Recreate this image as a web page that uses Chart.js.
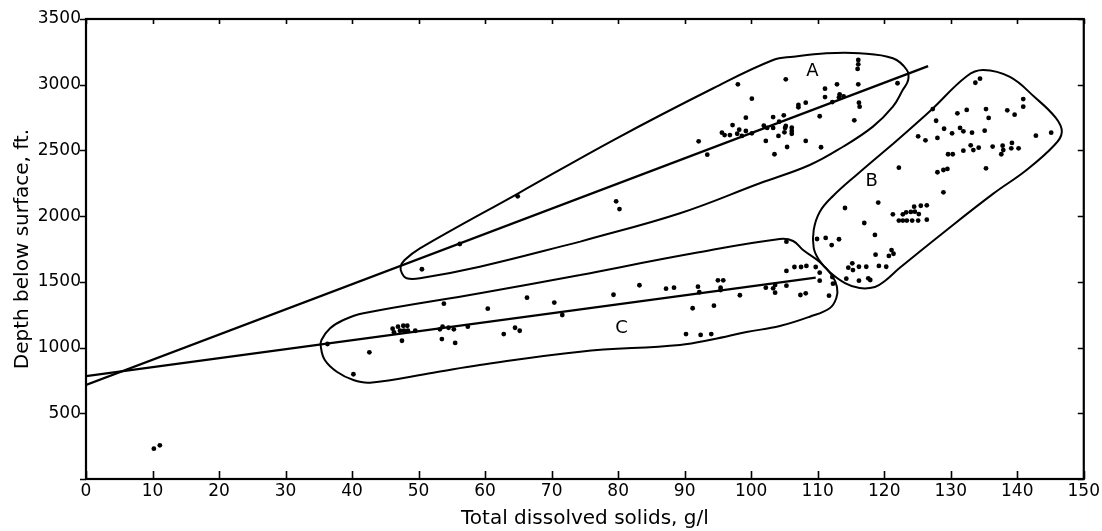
<!DOCTYPE html>
<html>
<head>
<meta charset="utf-8">
<script src="https://cdn.jsdelivr.net/npm/chart.js@4.4.0/dist/chart.umd.min.js"></script>
<style>
html,body{margin:0;padding:0;background:#fff;}
#wrap{width:1102px;height:531px;position:relative;}
</style>
</head>
<body>
<div id="wrap"><canvas id="c" width="1102" height="531"></canvas></div>
<script>
// ---------- axis setup ----------
const xMin = 0, xMax = 150, xStep = 10;
const yMin = 0, yMax = 3500, yStep = 500;
const xTitle = 'Total dissolved solids, g/l';
const yTitle = 'Depth below surface, ft.';

// ---------- observed samples [TDS g/l, depth ft] ----------
const groupA = [
  [50.5,1596],[56.2,1788],[64.9,2151],[79.7,2113],[80.2,2054],
  [92.1,2569],[93.4,2468],
  [95.6,2635],[96.0,2617],[96.8,2617],[97.9,2627],[98.2,2658],[98.6,2610],[99.2,2648],[100.1,2630],
  [97.2,2693],[99.2,2749],[100.1,2894],[98.0,3003],
  [101.9,2688],[102.4,2671],[103.3,2671],[105.2,2686],[105.1,2671],[106.1,2673],[106.1,2648],[106.1,2627],[105.0,2638],
  [102.2,2572],[104.1,2610],[108.2,2572],[105.4,2526],[110.5,2524],[103.5,2471],
  [103.3,2754],[104.9,2767],[104.2,2719],
  [107.1,2846],[107.1,2828],[108.2,2863],[112.2,2868],
  [110.3,2760],[115.5,2729],
  [111.1,2970],[112.9,3003],[116.1,3003],[111.1,2906],
  [113.3,2927],[113.2,2904],[113.9,2912],
  [116.2,2863],[116.3,2833],
  [116.1,3188],[116.1,3155],[116.0,3120],
  [105.2,3041],[122.0,3011]
];
const groupB = [
  [133.7,3015],[134.4,3046],[140.9,2891],[140.9,2833],[127.3,2815],[131.0,2782],[132.4,2808],[135.3,2815],
  [135.7,2747],[138.5,2805],[139.6,2772],[127.8,2726],[129.0,2665],[130.2,2630],[131.4,2671],[131.9,2645],
  [133.2,2635],[135.1,2650],[142.8,2612],[145.1,2635],[125.1,2607],[126.2,2577],[128.0,2595],[129.6,2471],
  [130.3,2471],[131.9,2498],[133.0,2539],[133.4,2503],[134.2,2521],[136.3,2529],[137.8,2536],[137.9,2503],
  [137.6,2471],[139.2,2557],[139.1,2516],[140.2,2516],[122.2,2369],[128.0,2334],[128.9,2351],[129.5,2359],
  [135.3,2364],[128.9,2181],[119.1,2103],[114.1,2062],[121.3,2014],
  [122.2,1966],[122.8,1966],[123.4,1966],[124.2,1966],[125.1,1966],[126.4,1973],[122.8,2014],[123.3,2029],
  [124.0,2032],[124.5,2072],[124.6,2034],[125.2,2016],[125.5,2079],[126.4,2082],
  [117.0,1948],[118.6,1857],[109.9,1826],[111.2,1834],[112.1,1780],[113.2,1824],[118.7,1707],[120.7,1697],
  [121.1,1742],[121.4,1714],[115.2,1641],[114.6,1608],[115.3,1590],[116.2,1615],[117.3,1615],[119.2,1621],
  [120.3,1615],[114.3,1524],[116.2,1509],[117.6,1527],[117.9,1514]
];
const groupC = [
  [36.3,1027],[42.6,964],[40.2,797],
  [46.1,1144],[46.3,1116],[46.9,1159],[47.2,1128],[47.7,1166],[47.8,1128],[48.3,1166],[48.4,1128],[47.5,1052],[49.5,1128],
  [53.2,1139],[53.6,1159],[54.5,1151],[53.5,1065],[55.3,1139],[55.5,1035],[53.8,1334],
  [57.4,1159],[60.4,1296],[62.8,1103],[64.5,1151],[65.2,1128],[66.3,1380],[70.4,1342],[71.6,1248],
  [79.3,1402],[83.2,1474],[87.2,1448],[88.4,1456],[90.2,1103],[92.4,1096],[94.0,1103],[91.2,1299],[94.4,1319],
  [92.0,1463],[92.2,1421],[95.0,1512],[95.8,1512],[95.4,1456],[95.4,1438],[98.3,1398],
  [102.2,1456],[103.3,1451],[103.6,1476],[103.6,1418],[105.3,1471],[105.3,1583],[106.5,1613],[107.5,1613],
  [108.3,1621],[109.7,1613],[110.3,1570],[110.3,1509],[112.2,1537],[112.3,1486],[111.7,1395],[107.4,1400],
  [108.2,1413],[105.3,1806]
];
const shallowWells = [[10.2,231],[11.1,256]];

// ---------- trend lines ----------
const trendA = [[0,715],[126.6,3142]];
const trendC = [[0,783],[109.7,1532]];

// ---------- group envelopes ----------
const envelopeA = [
  [74.3,1806],[59.2,1615],[50.2,1527],[48.2,1527],[47.5,1565],[47.3,1615],[47.9,1666],[50.2,1755],
  [65.0,2174],[79.3,2579],[94.3,2973],[103.3,3188],[106.3,3213],[111.3,3239],[116.3,3239],[121.3,3201],
  [123.4,3112],[123.6,3036],[122.8,2961],[121.3,2833],[118.3,2681],[113.8,2528],[108.8,2389],
  [101.3,2250],[89.3,2022],[74.3,1806]
];
const envelopeB = [
  [121.3,2549],[126.9,2800],[132.4,3065],[134.9,3112],[138.9,3059],[142.6,2906],[145.8,2747],[146.7,2640],
  [145.6,2541],[141.4,2351],[136.4,2171],[129.4,1895],[122.3,1605],[120.1,1507],[118.6,1461],[116.3,1453],
  [114.1,1491],[111.8,1575],[110.2,1666],[109.4,1758],[109.4,1895],[110.3,2032],[112.3,2153],[116.0,2321],
  [121.3,2549]
];
const envelopeC = [
  [74.3,1552],[91.3,1717],[104.3,1826],[106.3,1811],[107.8,1742],[110.3,1651],[112.1,1552],[112.9,1461],
  [112.8,1377],[111.8,1299],[108.8,1235],[104.3,1164],[99.3,1118],[94.3,1063],[89.3,1020],[74.3,969],
  [59.2,867],[52.2,809],[42.7,733],[40.2,753],[37.7,816],[35.9,905],[35.3,1007],[35.4,1058],[36.7,1147],
  [38.7,1210],[41.7,1261],[59.2,1413],[74.3,1552]
];

// ---------- group labels ----------
const groupNames = ['A','B','C'];
const groupLabelX = [109.2,118.1,80.5];
const groupLabelY = [3104,2262,1147];

const toXY = arr => arr.map(p => ({x:p[0], y:p[1]}));

function pointSet(arr){
  return {type:'scatter', data:toXY(arr), showLine:false, pointRadius:2.4,
          pointBackgroundColor:'#000', pointBorderWidth:0, pointHoverRadius:2.4};
}
function lineSet(arr, w){
  return {type:'scatter', data:toXY(arr), showLine:true, pointRadius:0, pointHoverRadius:0,
          borderColor:'#000', borderWidth:w, tension:0, fill:false};
}
function curveSet(arr){
  return {type:'scatter', data:toXY(arr), showLine:true, pointRadius:0, pointHoverRadius:0,
          borderColor:'#000', borderWidth:2, tension:0.4, fill:false};
}

const frameAndTicks = {
  id:'frameAndTicks',
  afterDraw(chart){
    const ctx = chart.ctx, a = chart.chartArea, xs = chart.scales.x, ys = chart.scales.y;
    ctx.save();
    ctx.strokeStyle = '#000';
    ctx.lineWidth = 1.6;
    ctx.beginPath();
    xs.ticks.forEach(t => {
      const px = Math.round(xs.getPixelForValue(t.value)) + 0.5;
      ctx.moveTo(px, a.bottom); ctx.lineTo(px, a.bottom - 8);
      ctx.moveTo(px, a.top); ctx.lineTo(px, a.top + 5);
    });
    ys.ticks.forEach(t => {
      const py = Math.round(ys.getPixelForValue(t.value)) + 0.5;
      ctx.moveTo(a.left - 6, py); ctx.lineTo(a.left, py);
      ctx.moveTo(a.right, py); ctx.lineTo(a.right - 6, py);
    });
    ctx.stroke();
    ctx.lineWidth = 2.2;
    ctx.strokeRect(a.left, a.top, a.right - a.left, a.bottom - a.top);
    ctx.fillStyle = '#000';
    ctx.font = '18px "DejaVu Sans"';
    ctx.textAlign = 'center';
    ctx.textBaseline = 'middle';
    groupNames.forEach((n,i) => {
      ctx.fillText(n, xs.getPixelForValue(groupLabelX[i]), ys.getPixelForValue(groupLabelY[i]));
    });
    ctx.restore();
  }
};

new Chart(document.getElementById('c'), {
  type:'scatter',
  data:{datasets:[
    curveSet(envelopeA), curveSet(envelopeB), curveSet(envelopeC),
    lineSet(trendA, 2.3), lineSet(trendC, 2.3),
    pointSet(groupA), pointSet(groupB), pointSet(groupC), pointSet(shallowWells)
  ]},
  options:{
    responsive:false, animation:false, events:[],
    layout:{padding:{top:19, right:18, left:0, bottom:0}},
    plugins:{legend:{display:false}, tooltip:{enabled:false}},
    scales:{
      x:{
        type:'linear', min:xMin, max:xMax,
        grid:{display:false, drawTicks:false}, border:{display:false},
        ticks:{stepSize:xStep, color:'#000', padding:2, font:{family:'DejaVu Sans', size:17}, maxRotation:0},
        title:{display:true, text:xTitle, color:'#000', font:{family:'DejaVu Sans', size:20}, padding:{top:0,bottom:0}},
        afterFit(s){ s.height = 52; }
      },
      y:{
        type:'linear', min:yMin, max:yMax,
        grid:{display:false, drawTicks:false}, border:{display:false},
        ticks:{stepSize:yStep, color:'#000', padding:5, font:{family:'DejaVu Sans', size:17},
               callback:v => v === 0 ? '' : String(v)},
        title:{display:true, text:yTitle, color:'#000', font:{family:'DejaVu Sans', size:20}, padding:{top:11,bottom:0}},
        afterFit(s){ s.width = 86; }
      }
    }
  },
  plugins:[frameAndTicks]
});
</script>
</body>
</html>
